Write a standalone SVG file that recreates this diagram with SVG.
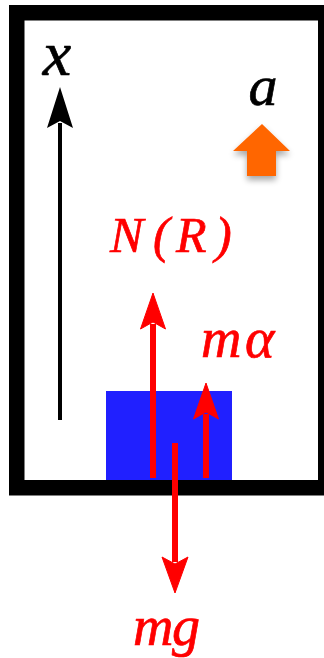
<svg xmlns="http://www.w3.org/2000/svg" width="324" height="658" viewBox="0 0 324 658">
  <defs>
    <style>
      .lbl { font-family: "Liberation Serif", "DejaVu Serif", serif; font-style: italic; stroke-width: 0.7; }
      .red { fill: #ff0000; stroke: #ff0000; }
      .blk { fill: #000000; }
      .blkt { fill: #000000; stroke: #000000; }
      .rshaft { stroke: #ff0000; stroke-width: 6; fill: none; }
    </style>
    <filter id="shadow" x="-50%" y="-50%" width="200%" height="200%">
      <feGaussianBlur in="SourceAlpha" stdDeviation="3"/>
      <feOffset dx="0" dy="4" result="b"/>
      <feComponentTransfer><feFuncA type="linear" slope="0.35"/></feComponentTransfer>
      <feMerge><feMergeNode/><feMergeNode in="SourceGraphic"/></feMerge>
    </filter>
  </defs>
  <rect width="324" height="658" fill="#ffffff"/>

  <g id="frame">
    <rect x="16.75" y="12.75" width="309" height="475" fill="none" stroke="#000" stroke-width="15.5"/>
  </g>

  <g id="block">
    <rect x="106" y="391" width="126" height="89" fill="#2020ff"/>
  </g>

  <g id="axis-x">
    <line x1="60" y1="420" x2="60" y2="123" stroke="#000" stroke-width="4"/>
    <polygon class="blk" points="60,87 73,128 60,121 47,128"/>
    <text class="lbl blkt" x="57" y="75" font-size="64" text-anchor="middle">x</text>
  </g>

  <g id="accel">
    <polygon fill="#ff6600" filter="url(#shadow)" points="262,124 290,151 276,151 276,176 247,176 247,151 233,151"/>
    <text class="lbl blkt" x="263" y="105" font-size="58" text-anchor="middle">a</text>
  </g>

  <g id="connectors">
    <g id="force-N">
      <line class="rshaft" x1="153" y1="478" x2="153" y2="324"/>
      <polygon class="red" points="153,293 165.5,329 153,322 140.5,329" stroke="none"/>
    </g>
    <g id="force-ma">
      <line class="rshaft" x1="206" y1="478" x2="206" y2="414"/>
      <polygon class="red" points="206,383 218.5,419 206,412 193.5,419" stroke="none"/>
    </g>
    <g id="force-mg">
      <line class="rshaft" x1="175" y1="443" x2="175" y2="562"/>
      <polygon class="red" points="175,593 188,557 175,564 162,557" stroke="none"/>
    </g>
  </g>

  <g id="labels">
    <text class="lbl red" y="252" font-size="50"><tspan x="110">N</tspan><tspan x="153">(</tspan><tspan x="176">R</tspan><tspan x="215">)</tspan></text>
    <text class="lbl red" y="357" font-size="56"><tspan x="201">m</tspan><tspan x="245">α</tspan></text>
    <text class="lbl red" y="645" font-size="56"><tspan x="133">m</tspan><tspan x="172">g</tspan></text>
  </g>
</svg>
